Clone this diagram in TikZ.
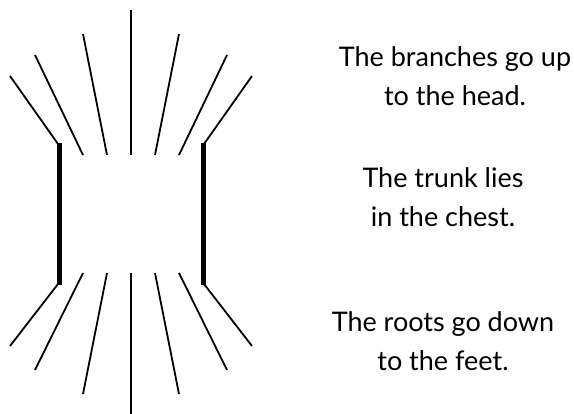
\documentclass[tikz,border=0pt]{standalone}
\usepackage{fontspec}
\setmainfont{Lato}
\usetikzlibrary{positioning}

\begin{document}
\begin{tikzpicture}[x=1pt, y=-1pt,
            branch/.style={line width=1.8pt},
            trunk/.style={line width=5pt},
            caption/.style={align=center, font=\fontsize{27}{39}\selectfont, inner sep=0pt, anchor=base}]

            \useasboundingbox (0,0) rectangle (574,414);

            % Trunk
            \draw [trunk] (59,143) -- (59,285);
            \draw [trunk] (203,143) -- (203,285);

            % Branches and roots
            \draw [branch] (131,155) -- (131,10);
            \draw [branch] (131,273) -- (131,414);
            \foreach \s in {-1,1} {
                \draw [branch] (131+\s*24,155) -- (131+\s*48,34);
                \draw [branch] (131+\s*48,155) -- (131+\s*96,55);
                \draw [branch] (131+\s*73,144) -- (131+\s*121,76);
                \draw [branch] (131+\s*24,273) -- (131+\s*48,394);
                \draw [branch] (131+\s*48,273) -- (131+\s*96,370);
                \draw [branch] (131+\s*73,284) -- (131+\s*121,346);
            }

            % Texts
            \node (branches) [caption] at (455,106) {The branches go up\\to the head.};
            \node (trunktext) [caption] at (443,227) {The trunk lies\\in the chest.};
            \node (roots) [caption] at (443,371) {The roots go down\\to the feet.};
        \end{tikzpicture}
\end{document}
